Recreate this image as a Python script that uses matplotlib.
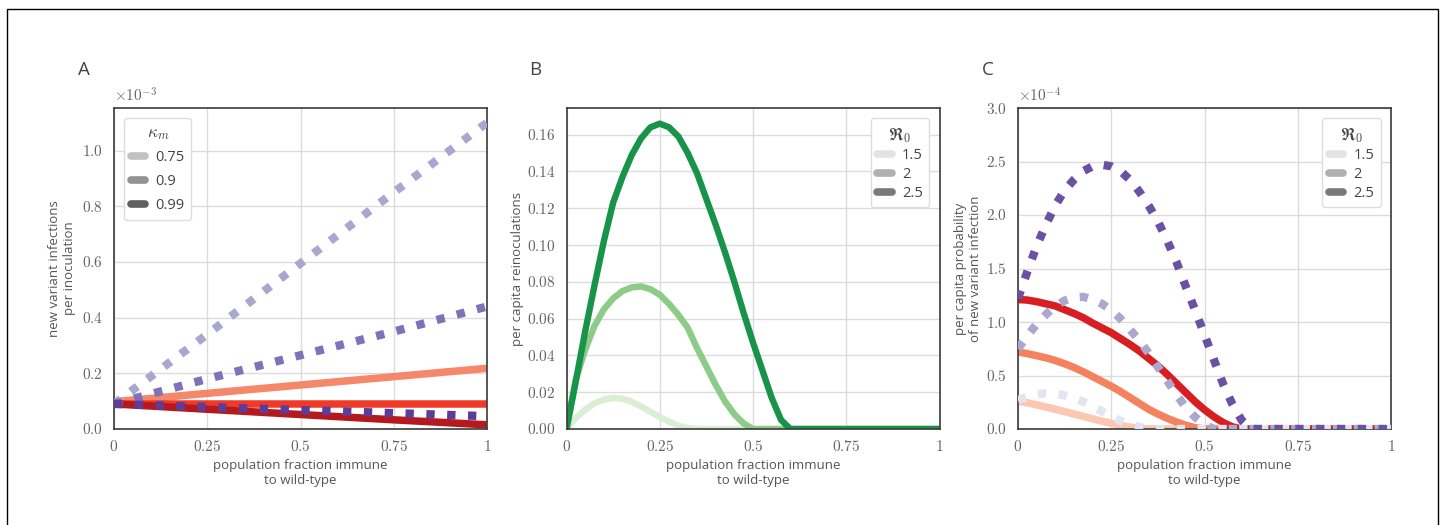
import matplotlib.pyplot as plt
from matplotlib.lines import Line2D
from matplotlib.patches import Rectangle
from matplotlib.ticker import FixedLocator, FuncFormatter

plt.rcParams["font.family"] = ["Open Sans", "DejaVu Sans"]
plt.rcParams["mathtext.fontset"] = "cm"

# panel A: new variant infections per inoculation (units of 1e-3)
a_x = [0.0, 0.25, 0.5, 0.75, 1.0]
a_solid = {
    "0.75": [0.098, 0.128, 0.158, 0.188, 0.218],
    "0.9": [0.09, 0.09, 0.09, 0.09, 0.09],
    "0.99": [0.09, 0.071, 0.052, 0.033, 0.015],
}
a_dotted = {
    "0.75": [0.09, 0.34, 0.595, 0.85, 1.10],
    "0.9": [0.09, 0.18, 0.265, 0.35, 0.44],
    "0.99": [0.09, 0.079, 0.068, 0.057, 0.046],
}
kappa_labels = ["0.75", "0.9", "0.99"]

# shared grid for panels B and C; each curve is listed until it reaches zero
fine_x = [0.0, 0.025, 0.05, 0.075, 0.1, 0.125, 0.15, 0.175, 0.2, 0.225,
          0.25, 0.275, 0.3, 0.325, 0.35, 0.375, 0.4, 0.425, 0.45, 0.475,
          0.5, 0.525, 0.55, 0.575, 0.6, 0.625, 1.0]

# panel B: per capita reinoculations
b_values = {
    "1.5": [0.0, 0.006, 0.0105, 0.014, 0.016, 0.0169, 0.0165, 0.0148, 0.0123,
            0.0094, 0.0065, 0.004, 0.0018, 0.0005, 0.0],
    "2": [0.0, 0.027, 0.043, 0.056, 0.065, 0.071, 0.075, 0.077, 0.0775, 0.076,
          0.073, 0.068, 0.062, 0.055, 0.044, 0.034, 0.024, 0.015, 0.008, 0.003, 0.0],
    "2.5": [0.0, 0.026, 0.053, 0.078, 0.102, 0.123, 0.137, 0.149, 0.158, 0.164,
            0.166, 0.164, 0.159, 0.150, 0.139, 0.125, 0.111, 0.096, 0.080, 0.063,
            0.047, 0.032, 0.017, 0.005, 0.0],
}
r0_labels = ["1.5", "2", "2.5"]

# panel C: per capita probability of new variant infection (units of 1e-4)
c_solid = {
    "1.5": [0.26, 0.245, 0.225, 0.205, 0.185, 0.163, 0.14, 0.118, 0.095, 0.073,
            0.053, 0.033, 0.017, 0.006, 0.0],
    "2": [0.72, 0.705, 0.685, 0.665, 0.64, 0.61, 0.575, 0.535, 0.49, 0.445,
          0.40, 0.35, 0.295, 0.24, 0.185, 0.14, 0.10, 0.065, 0.035, 0.012, 0.0],
    "2.5": [1.21, 1.205, 1.19, 1.17, 1.15, 1.115, 1.08, 1.04, 0.99, 0.945,
            0.90, 0.845, 0.79, 0.73, 0.66, 0.59, 0.51, 0.425, 0.34, 0.255,
            0.18, 0.115, 0.06, 0.02, 0.0],
}
c_dotted = {
    "1.5": [0.27, 0.30, 0.325, 0.333, 0.33, 0.315, 0.29, 0.255, 0.21, 0.165,
            0.115, 0.075, 0.045, 0.02, 0.005, 0.0],
    "2": [0.75, 0.87, 0.98, 1.07, 1.15, 1.20, 1.23, 1.235, 1.21, 1.17,
          1.11, 1.03, 0.93, 0.83, 0.71, 0.58, 0.45, 0.32, 0.20, 0.11,
          0.04, 0.0],
    "2.5": [1.22, 1.47, 1.71, 1.91, 2.09, 2.23, 2.33, 2.41, 2.455, 2.47,
            2.455, 2.41, 2.33, 2.22, 2.09, 1.94, 1.76, 1.56, 1.33, 1.11,
            0.88, 0.65, 0.42, 0.23, 0.08, 0.0],
}

x_ticks = [0, 0.25, 0.5, 0.75, 1]
x_ticklabels = ["0", "0.25", "0.5", "0.75", "1"]

a_reds = ["#f5876b", "#ee3a26", "#b5191d"]
a_purples = ["#a9a6d0", "#7f72b8", "#5e3c99"]
b_greens = ["#d9eed3", "#8ccb88", "#17934a"]
c_reds = ["#fcc7b0", "#f4825f", "#d81e22"]
c_purples = ["#e4e3f0", "#aaa7d1", "#6a51a3"]
legend_grays = ["#e3e3e3", "#b0b0b0", "#7a7a7a"]
legend_grays_a = ["#c2c2c2", "#929292", "#5f5f5f"]

TEXT = "#555555"
DOTS = (0, (1, 1.5))
SOLID_LW = 5.4
DOT_LW = 6.0


def _padded(values):
    return values + [0.0] * (len(fine_x) - len(values))


def _style(ax, ylim, yticks, yfmt):
    ax.set_xlim(0, 1)
    ax.set_ylim(*ylim)
    ax.grid(True, color="#dcdcdc", linewidth=1.0, zorder=0)
    ax.set_axisbelow(True)
    for spine in ax.spines.values():
        spine.set_color("#3a3a3a")
        spine.set_linewidth(1.2)
    ax.tick_params(length=0, pad=8, labelsize=11, labelcolor="#666666")
    ax.xaxis.set_major_locator(FixedLocator(x_ticks))
    ax.xaxis.set_major_formatter(FuncFormatter(
        lambda v, p: "$" + x_ticklabels[x_ticks.index(round(v, 2))] + "$"))
    ax.yaxis.set_major_locator(FixedLocator(yticks))
    ax.yaxis.set_major_formatter(FuncFormatter(lambda v, p: "$" + format(v, yfmt) + "$"))
    ax.set_xlabel("population fraction immune\nto wild-type", color=TEXT,
                  fontsize=9.5, linespacing=1.2, labelpad=3)


def _legend(ax, title, colors, labels, loc, spacing):
    handles = [Line2D([0], [0], color=c, lw=5.5, solid_capstyle="round") for c in colors]
    leg = ax.legend(handles, labels, title=title, loc=loc, fontsize=10.5,
                    title_fontsize=12.5, handlelength=1.0, handletextpad=0.7,
                    labelspacing=spacing, borderpad=0.45, fancybox=True,
                    framealpha=1, edgecolor="#dddddd", borderaxespad=0.7)
    for t in leg.get_texts():
        t.set_color("#444444")
    leg.get_title().set_color("#444444")


fig = plt.figure(figsize=(14.45, 5.25), dpi=100)
fig.patches.append(Rectangle((7 / 1445, -0.05), 1431 / 1445, 1.05 - 9 / 525,
                             transform=fig.transFigure, fill=False,
                             edgecolor="black", linewidth=1.0))

w, h, bottom = 373 / 1445, 321 / 525, 96 / 525
ax_a = fig.add_axes([114 / 1445, bottom, w, h])
ax_b = fig.add_axes([566.5 / 1445, bottom, w, h])
ax_c = fig.add_axes([1018 / 1445, bottom, w, h])

# A
for key, color in zip(kappa_labels, a_reds):
    ax_a.plot(a_x, a_solid[key], color=color, lw=SOLID_LW, solid_capstyle="butt", zorder=2)
for key, color in zip(kappa_labels, a_purples):
    ax_a.plot(a_x, a_dotted[key], color=color, lw=DOT_LW, linestyle=DOTS,
              dash_capstyle="butt", zorder=3)
_style(ax_a, (0, 1.153), [0.0, 0.2, 0.4, 0.6, 0.8, 1.0], ".1f")
ax_a.set_ylabel("new variant infections\nper inoculation", color=TEXT,
                fontsize=9.5, linespacing=1.2, labelpad=4)
ax_a.text(0, 1.006, r"$\times10^{-3}$", transform=ax_a.transAxes,
          fontsize=11, color="#666666", ha="left", va="bottom")
_legend(ax_a, r"$\kappa_m$", legend_grays_a, kappa_labels, "upper left", 0.6)

# B
for key, color in zip(r0_labels, b_greens):
    ax_b.plot(fine_x, _padded(b_values[key]), color=color, lw=4.6,
              solid_capstyle="butt", solid_joinstyle="round", zorder=2)
_style(ax_b, (0, 0.1745), [0.0, 0.02, 0.04, 0.06, 0.08, 0.10, 0.12, 0.14, 0.16], ".2f")
ax_b.set_ylabel("per capita reinoculations", color=TEXT, fontsize=9.5, labelpad=2)
_legend(ax_b, r"$\mathfrak{R}_0$", legend_grays, r0_labels, "upper right", 0.25)

# C
for key, color in zip(r0_labels, c_reds):
    ax_c.plot(fine_x, _padded(c_solid[key]), color=color, lw=SOLID_LW,
              solid_capstyle="butt", solid_joinstyle="round", zorder=2)
for key, color in zip(r0_labels, c_purples):
    ax_c.plot(fine_x, _padded(c_dotted[key]), color=color, lw=DOT_LW, linestyle=DOTS,
              dash_capstyle="butt", zorder=3)
_style(ax_c, (0, 3.0), [0.0, 0.5, 1.0, 1.5, 2.0, 2.5, 3.0], ".1f")
ax_c.set_ylabel("per capita probability\nof new variant infection", color=TEXT,
                fontsize=9.5, linespacing=1.2, labelpad=3)
ax_c.text(0, 1.006, r"$\times10^{-4}$", transform=ax_c.transAxes,
          fontsize=11, color="#666666", ha="left", va="bottom")
_legend(ax_c, r"$\mathfrak{R}_0$", legend_grays, r0_labels, "upper right", 0.25)

for label, px in zip(["A", "B", "C"], [78, 529, 982]):
    fig.text(px / 1445, 1 - 70 / 525, label, fontsize=13.5, color="#444444",
             ha="left", va="center")

fig.savefig("out.png", dpi=100)
